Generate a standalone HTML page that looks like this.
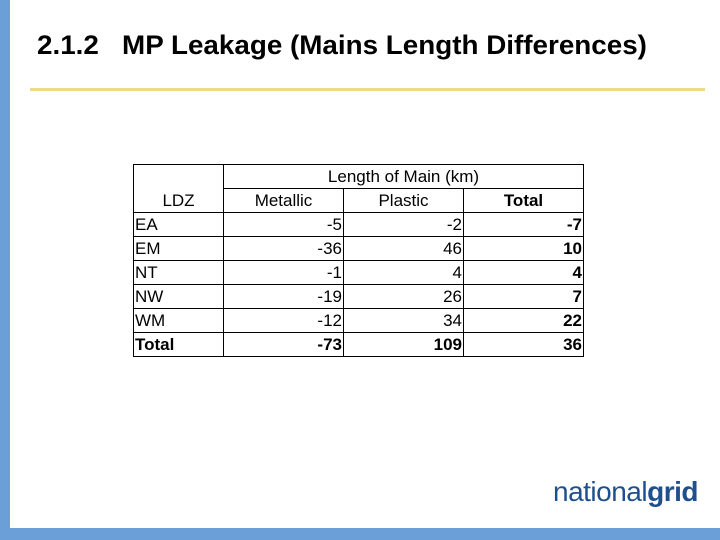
<!DOCTYPE html>
<html><head><meta charset="utf-8"><style>
body{margin:0;width:720px;height:540px;position:relative;background:#fff;font-family:"Liberation Sans",Arial,sans-serif;overflow:hidden}
.lb{position:absolute;left:0;top:0;width:10px;height:540px;background:#6a9fd8}
.bb{position:absolute;left:0;top:528px;width:720px;height:12px;background:#6a9fd8}
.title{position:absolute;left:37px;top:30px;font-size:27px;font-weight:bold;color:#000;white-space:pre;transform-origin:left top;transform:scaleX(1.03)}
.rule{position:absolute;left:30px;top:88px;width:675px;height:3px;background:#f0d98a}
table{position:absolute;left:133px;top:164px;border-collapse:collapse;font-size:17px;color:#000}
td{border:1px solid #000;height:23px;padding:0 1px;line-height:23px}
.c0{width:87px;text-align:left}.c{width:117px;text-align:right}
.h{text-align:center}
.b{font-weight:bold}
.logo{position:absolute;left:553px;top:476px;font-size:28px;color:#1f4f8c;letter-spacing:-0.5px}
.logo b{color:#1f4f8c}
</style></head><body>
<div class="lb"></div>
<div class="bb"></div>
<div class="title">2.1.2   MP Leakage (Mains Length Differences)</div>
<div class="rule"></div>
<table>
<tr><td class="c0" rowspan="2" style="text-align:center;vertical-align:bottom">LDZ</td><td colspan="3" class="h">Length of Main (km)</td></tr>
<tr><td class="c h">Metallic</td><td class="c h">Plastic</td><td class="c h b">Total</td></tr>
<tr><td class="c0">EA</td><td class="c">-5</td><td class="c">-2</td><td class="c b">-7</td></tr>
<tr><td class="c0">EM</td><td class="c">-36</td><td class="c">46</td><td class="c b">10</td></tr>
<tr><td class="c0">NT</td><td class="c">-1</td><td class="c">4</td><td class="c b">4</td></tr>
<tr><td class="c0">NW</td><td class="c">-19</td><td class="c">26</td><td class="c b">7</td></tr>
<tr><td class="c0">WM</td><td class="c">-12</td><td class="c">34</td><td class="c b">22</td></tr>
<tr><td class="c0 b">Total</td><td class="c b">-73</td><td class="c b">109</td><td class="c b">36</td></tr>
</table>
<div class="logo">national<b>grid</b></div>
</body></html>
